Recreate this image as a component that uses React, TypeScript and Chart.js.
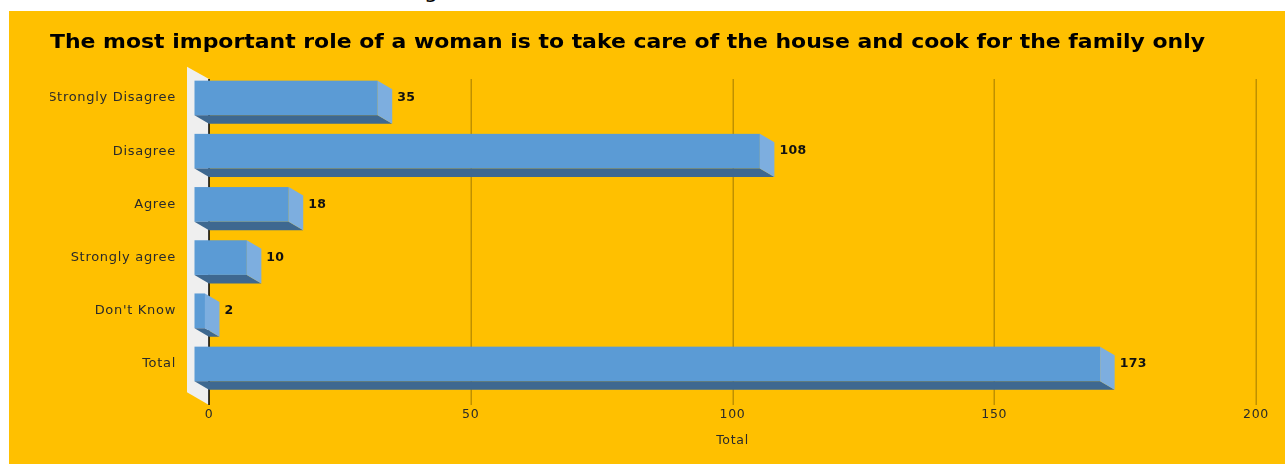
import React, { useEffect, useRef } from "react";
import { Chart, registerables } from "chart.js";

Chart.register(...registerables);

const categories = ["Strongly Disagree", "Disagree", "Agree", "Strongly agree", "Don't Know", "Total"];
const counts = [35, 108, 18, 10, 2, 173];
const xTickMin = 0;
const xTickMax = 200;
const xTickStep = 50;
const chartTitle = "The most important role of a woman is to take care of the house and cook for the family only";
const axisTitle = "Total";

const FONT = "'DejaVu Sans', 'Open Sans', sans-serif";
const W = 1276;
const H = 453;

// 3D depth of bars (px)
const DX = 14.5;
const DY = 8.5;

const bar3dPlugin = {
  id: "bar3d",
  beforeDraw(chart: any) {
    // the reference text is rendered slightly wide
    (chart.ctx as any).letterSpacing = "0.7px";
  },
  afterDatasetsDraw(chart: any) {
    const { ctx, chartArea, scales } = chart;
    const xs = scales.x;
    const x0 = xs.getPixelForValue(0);
    const top = chartArea.top;
    const bottom = chartArea.bottom;
    ctx.save();

    // back wall sliver
    ctx.fillStyle = "#EFEFEF";
    ctx.beginPath();
    ctx.moveTo(x0 - 22, top - 4.7);
    ctx.lineTo(x0, top + 7.6);
    ctx.lineTo(x0, bottom + 14.4);
    ctx.lineTo(x0 - 22, bottom + 1.7);
    ctx.closePath();
    ctx.fill();

    // gridlines
    ctx.strokeStyle = "#BF9000";
    ctx.lineWidth = 1.5;
    xs.ticks.forEach((t: any) => {
      if (t.value === 0) return;
      const px = Math.round(xs.getPixelForValue(t.value)) + 0.25;
      ctx.beginPath();
      ctx.moveTo(px, top + 7.6);
      ctx.lineTo(px, bottom + 14.4);
      ctx.stroke();
    });

    // zero axis line
    ctx.strokeStyle = "#000000";
    ctx.lineWidth = 1.5;
    ctx.beginPath();
    ctx.moveTo(x0, top + 7.6);
    ctx.lineTo(x0, bottom + 14.4);
    ctx.stroke();

    const meta = chart.getDatasetMeta(0);
    meta.data.forEach((el: any, i: number) => {
      const { x, y, base, height } = el.getProps(["x", "y", "base", "height"], true);
      const yt = y - height / 2;
      const yb = y + height / 2;
      const fl = base - DX;
      const fr = x - DX;
      // front face
      ctx.fillStyle = "#5B9BD5";
      ctx.fillRect(fl, yt, fr - fl, yb - yt);
      // bottom face
      ctx.fillStyle = "#3E6890";
      ctx.beginPath();
      ctx.moveTo(fl, yb);
      ctx.lineTo(fr, yb);
      ctx.lineTo(x, yb + DY);
      ctx.lineTo(base, yb + DY);
      ctx.closePath();
      ctx.fill();
      // side face
      ctx.fillStyle = "#7DAEDF";
      ctx.beginPath();
      ctx.moveTo(fr, yt);
      ctx.lineTo(x, yt + DY);
      ctx.lineTo(x, yb + DY);
      ctx.lineTo(fr, yb);
      ctx.closePath();
      ctx.fill();
      // value label
      ctx.letterSpacing = "0.3px";
      ctx.fillStyle = "#111111";
      ctx.font = `bold 12.5px ${FONT}`;
      ctx.textAlign = "left";
      ctx.textBaseline = "middle";
      ctx.fillText(String(counts[i]), x + 5, y);
    });
    ctx.restore();
  },
  afterDraw(chart: any) {
    const { ctx } = chart;
    ctx.save();
    ctx.letterSpacing = "0px";
    ctx.font = `bold 19px ${FONT}`;
    ctx.fillStyle = "#000000";
    ctx.textAlign = "left";
    ctx.textBaseline = "middle";
    const w = ctx.measureText(chartTitle).width;
    const targetW = 1155;
    const sx = targetW / w;
    ctx.translate(41, 32);
    ctx.scale(sx, 1);
    ctx.fillText(chartTitle, 0, 0);
    ctx.restore();
  },
};

export default function App() {
  const canvasRef = useRef<HTMLCanvasElement | null>(null);

  useEffect(() => {
    if (!canvasRef.current) return;
    const chart = new Chart(canvasRef.current, {
      type: "bar",
      data: {
        labels: categories,
        datasets: [
          {
            label: axisTitle,
            data: counts,
            backgroundColor: "rgba(0,0,0,0)",
            borderWidth: 0,
            categoryPercentage: 1,
            barPercentage: 0.652,
          },
        ],
      },
      options: {
        indexAxis: "y",
        animation: false,
        responsive: false,
        devicePixelRatio: 1,
        layout: { padding: { left: 41, right: 29, top: 60.4, bottom: 0 } },
        plugins: {
          legend: { display: false },
          tooltip: { enabled: false },
          title: { display: false },
        },
        scales: {
          x: {
            min: xTickMin,
            max: xTickMax,
            ticks: { stepSize: xTickStep, color: "#2a2a2a", font: { family: FONT, size: 12.5 }, padding: 16.9 },
            grid: { display: false, drawTicks: false },
            border: { display: false },
            title: {
              display: true,
              text: axisTitle,
              color: "#2a2a2a",
              font: { family: FONT, size: 12.5 },
              padding: { top: 0, bottom: 15.5 },
            },
            afterFit: (s: any) => {
              s.height = 73.4;
            },
          },
          y: {
            ticks: { color: "#2a2a2a", font: { family: FONT, size: 13 }, padding: 33 },
            grid: { display: false, drawTicks: false },
            border: { display: false },
            afterFit: (s: any) => {
              s.width = 159;
            },
          },
        },
      },
      plugins: [bar3dPlugin],
    });
    return () => chart.destroy();
  }, []);

  return (
    <>
      <div
        style={{
          position: "absolute",
          left: 424,
          top: -20,
          fontFamily: FONT,
          fontSize: 22,
          lineHeight: "22px",
          color: "#000",
        }}
      >
        g
      </div>
      <div
        style={{
          position: "absolute",
          left: 9,
          top: 11,
          width: W,
          height: H,
          background: "#FFC000",
        }}
      >
        <canvas ref={canvasRef} width={W} height={H} style={{ display: "block", width: W, height: H }} />
      </div>
    </>
  );
}
